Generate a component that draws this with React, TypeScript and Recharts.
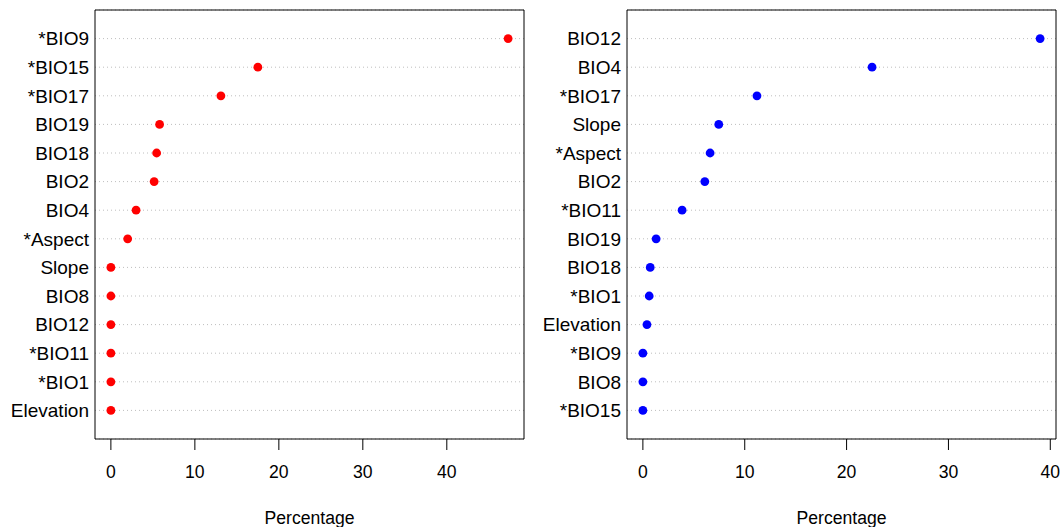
import { ScatterChart, Scatter, XAxis, YAxis, CartesianGrid, ReferenceArea } from 'recharts'

// variable contribution, top row first
const leftLabels = ['*BIO9', '*BIO15', '*BIO17', 'BIO19', 'BIO18', 'BIO2', 'BIO4', '*Aspect', 'Slope', 'BIO8', 'BIO12', '*BIO11', '*BIO1', 'Elevation']
const leftValues = [47.3, 17.5, 13.1, 5.8, 5.45, 5.15, 3.0, 2.0, 0, 0, 0, 0, 0, 0]

const rightLabels = ['BIO12', 'BIO4', '*BIO17', 'Slope', '*Aspect', 'BIO2', '*BIO11', 'BIO19', 'BIO18', '*BIO1', 'Elevation', '*BIO9', 'BIO8', '*BIO15']
const rightValues = [39.0, 22.5, 11.2, 7.45, 6.6, 6.08, 3.85, 1.3, 0.72, 0.62, 0.4, 0, 0, 0]

const xTicks = [0, 10, 20, 30, 40]

const FONT = '"Liberation Sans", Arial, Helvetica, sans-serif'

type PanelProps = {
  labels: string[]
  values: number[]
  color: string
  yAxisWidth: number
  left: number
}

function DotPanel({ labels, values, color, yAxisWidth, left }: PanelProps) {
  const n = labels.length
  const max = Math.max(...values)
  // R-style 4% padding on both ends
  const lo = -0.04 * max
  const hi = 1.04 * max
  const data = values.map((v, i) => ({ x: v, y: n - i }))
  const rows = labels.map((_, i) => n - i)

  return (
    <div style={{ position: 'absolute', left, top: 0 }}>
      <ScatterChart width={530} height={527} margin={{ top: 10, right: 530 - yAxisWidth - 429, bottom: 0, left: 0 }}>
        <CartesianGrid vertical={false} stroke="#bebebe" strokeDasharray="1 3" />
        <XAxis
          type="number"
          dataKey="x"
          domain={[lo, hi]}
          ticks={xTicks}
          allowDataOverflow
          axisLine={false}
          tickSize={11}
          tickMargin={16}
          tickLine={{ stroke: '#000' }}
          height={88}
          tick={{ fill: '#000', fontSize: 17.6, fontFamily: FONT }}
          label={{ value: 'Percentage', position: 'insideBottom', offset: 3, fill: '#000', fontSize: 17.6, fontFamily: FONT }}
        />
        <YAxis
          type="number"
          dataKey="y"
          domain={[0, n + 1]}
          ticks={rows}
          interval={0}
          width={yAxisWidth}
          axisLine={false}
          tickLine={false}
          tickSize={0}
          tickMargin={6}
          tickFormatter={(v: number) => labels[n - v] ?? ''}
          tick={{ fill: '#000', fontSize: 19, fontFamily: FONT }}
        />
        <ReferenceArea x1={lo} x2={hi} y1={0} y2={n + 1} fill="none" stroke="#000" strokeWidth={1} ifOverflow="visible" />
        <Scatter
          data={data}
          isAnimationActive={false}
          shape={(p: any) => <circle cx={p.cx} cy={p.cy} r={4.4} fill={color} />}
        />
      </ScatterChart>
    </div>
  )
}

export default function App() {
  return (
    <div style={{ position: 'absolute', left: 0, top: 0, width: 1060, height: 527, background: '#fff' }}>
      <DotPanel labels={leftLabels} values={leftValues} color="#ff0000" yAxisWidth={95} left={0} />
      <DotPanel labels={rightLabels} values={rightValues} color="#0000ff" yAxisWidth={97} left={530} />
    </div>
  )
}
